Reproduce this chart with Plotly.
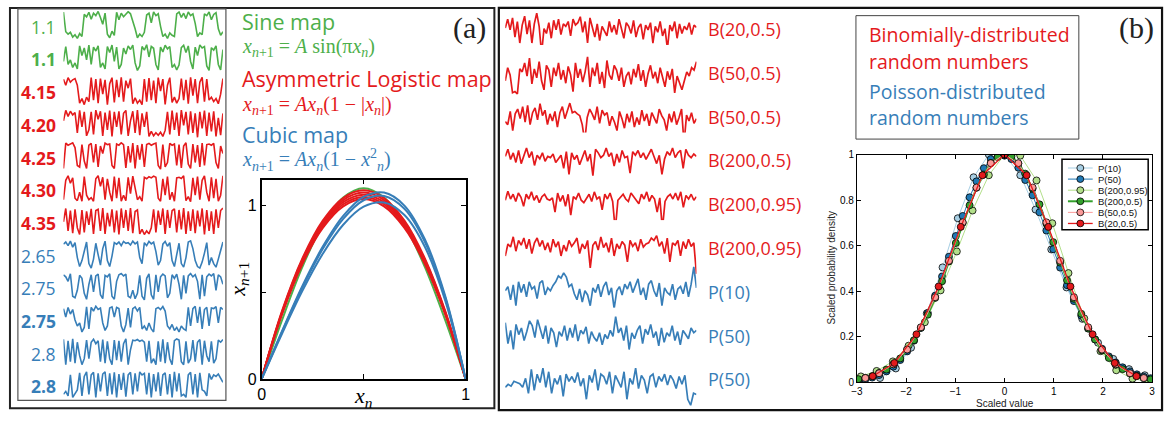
import plotly.graph_objects as go

W, H = 1172, 421
def clamp(v): return min(1.0, max(0.0, v))
def px(x): return clamp(x / W)
def py(y): return clamp(1 - y / H)

GREEN, RED, BLUE = "#4daf4a", "#e41a1c", "#377eb8"
SANS = "Open Sans"
SERIF = "Liberation Serif"

a_labels = ["1.1", "1.1", "4.15", "4.20", "4.25", "4.30", "4.35", "2.65", "2.75", "2.75", "2.8", "2.8"]
a_bold = [False, True, True, True, True, True, True, False, False, True, False, True]

sine_a = [96, 30, 22, 28, 12, 20, 8, 24, 14, 88, 80, 95, 72, 92, 84, 98, 78, 55, 92, 22, 10, 32, 18, 95, 70, 92, 80, 88, 97, 90, 68, 40, 10, 22, 14, 28, 86, 92, 60, 96, 84, 90, 48, 14, 22, 8, 26, 18, 14, 90, 96, 78, 92, 74, 96, 84, 90, 58, 14, 26, 20, 90, 84, 96, 70, 88, 94, 40, 18, 30]
sine_b = [40, 90, 30, 45, 20, 35, 15, 92, 60, 85, 45, 95, 30, 88, 75, 92, 20, 35, 15, 90, 70, 95, 40, 88, 15, 30, 85, 65, 92, 80, 95, 35, 10, 25, 90, 78, 96, 55, 90, 84, 30, 12, 88, 72, 94, 82, 90, 20, 30, 12, 28, 86, 94, 70, 92, 40, 15, 88, 60, 95, 85, 90, 25, 10, 86, 78, 92, 30, 12, 80]
logi_415 = [90, 70, 95, 80, 88, 92, 70, 10, 25, 5, 30, 15, 95, 20, 90, 10, 92, 40, 88, 5, 75, 95, 12, 88, 30, 96, 15, 85, 60, 92, 8, 28, 10, 20, 5, 90, 15, 94, 20, 85, 10, 95, 50, 90, 6, 70, 95, 12, 30, 10, 25, 92, 20, 88, 8, 96, 35, 90, 10, 80, 96, 15, 90, 20, 30, 15, 25, 8, 40, 92]
logi_420 = [60, 95, 75, 92, 80, 88, 20, 95, 40, 90, 10, 30, 90, 15, 96, 65, 92, 10, 88, 30, 94, 8, 90, 40, 92, 15, 85, 95, 10, 60, 92, 20, 96, 12, 85, 40, 90, 8, 25, 10, 20, 12, 22, 8, 28, 90, 15, 94, 30, 88, 10, 96, 45, 90, 15, 92, 20, 85, 5, 90, 35, 94, 10, 88, 25, 92, 8, 70, 12, 85]
logi_425 = [10, 95, 88, 92, 96, 80, 20, 15, 90, 35, 10, 88, 94, 30, 92, 15, 85, 60, 95, 90, 92, 20, 10, 92, 88, 96, 90, 12, 85, 30, 95, 10, 88, 40, 92, 15, 90, 94, 88, 92, 95, 20, 8, 90, 15, 30, 94, 88, 92, 20, 90, 12, 85, 96, 25, 10, 92, 30, 88, 15, 95, 20, 90, 92, 88, 94, 30, 10, 85, 60]
logi_430 = [15, 80, 95, 70, 88, 20, 12, 40, 10, 92, 30, 15, 22, 10, 85, 95, 60, 90, 15, 85, 40, 10, 92, 20, 88, 10, 30, 12, 90, 35, 94, 60, 15, 25, 10, 90, 85, 92, 88, 94, 90, 20, 10, 85, 30, 92, 15, 40, 10, 88, 90, 86, 95, 12, 25, 8, 88, 30, 92, 15, 80, 95, 40, 10, 90, 20, 85, 10, 30, 95]
logi_435 = [50, 95, 20, 88, 12, 92, 30, 8, 90, 15, 85, 40, 94, 10, 88, 92, 20, 96, 10, 80, 35, 92, 15, 88, 8, 95, 30, 90, 20, 96, 12, 85, 90, 10, 25, 8, 20, 10, 30, 92, 15, 88, 40, 95, 10, 90, 30, 88, 94, 15, 90, 25, 96, 10, 85, 20, 92, 12, 88, 35, 95, 8, 90, 20, 85, 10, 92, 30, 88, 96]
cubic_265 = [85, 92, 80, 95, 75, 90, 40, 10, 30, 60, 92, 20, 5, 35, 88, 50, 15, 70, 95, 30, 10, 45, 90, 85, 92, 80, 94, 88, 90, 82, 95, 86, 92, 40, 20, 90, 80, 94, 86, 92, 60, 15, 30, 85, 94, 78, 90, 30, 10, 50, 88, 20, 8, 40, 92, 96, 70, 30, 10, 5, 25, 55, 90, 15, 40, 20, 8, 35, 60, 92]
cubic_275a = [92, 85, 70, 95, 20, 15, 40, 90, 80, 30, 10, 60, 92, 35, 88, 94, 25, 12, 90, 85, 95, 20, 10, 70, 92, 96, 88, 94, 20, 15, 40, 12, 30, 90, 20, 8, 80, 95, 25, 10, 92, 35, 85, 94, 88, 15, 30, 92, 80, 94, 60, 10, 90, 30, 88, 96, 85, 92, 70, 10, 92, 20, 85, 94, 88, 96, 40, 92, 85, 60]
cubic_275b = [88, 60, 92, 70, 85, 50, 30, 40, 10, 25, 94, 20, 92, 80, 96, 85, 90, 40, 15, 30, 90, 94, 60, 92, 88, 30, 10, 35, 90, 25, 88, 94, 80, 92, 20, 30, 15, 40, 20, 10, 88, 92, 85, 95, 80, 30, 20, 35, 15, 25, 10, 30, 20, 15, 92, 30, 88, 96, 40, 94, 20, 85, 92, 30, 90, 88, 95, 40, 92, 85]
cubic_28a = [95, 10, 90, 20, 96, 15, 85, 40, 10, 30, 92, 30, 85, 95, 80, 90, 20, 94, 15, 88, 30, 10, 92, 25, 90, 20, 80, 96, 10, 60, 92, 90, 94, 88, 92, 85, 20, 90, 15, 30, 10, 88, 20, 95, 15, 85, 30, 10, 90, 96, 92, 20, 10, 88, 15, 30, 92, 20, 85, 94, 10, 90, 40, 20, 88, 15, 30, 92, 85, 94]
cubic_28b = [20, 30, 15, 85, 10, 25, 35, 92, 15, 80, 95, 20, 85, 94, 10, 90, 30, 88, 95, 15, 90, 20, 94, 10, 88, 35, 92, 12, 85, 94, 20, 90, 30, 95, 85, 90, 20, 92, 10, 88, 30, 94, 15, 85, 92, 20, 88, 10, 95, 30, 90, 15, 20, 10, 85, 94, 20, 88, 10, 92, 35, 30, 15, 90, 70, 85, 80, 88, 75, 60]

a_series = [sine_a, sine_b, logi_415, logi_420, logi_425, logi_430, logi_435,
            cubic_265, cubic_275a, cubic_275b, cubic_28a, cubic_28b]
a_colors = [GREEN] * 2 + [RED] * 5 + [BLUE] * 5

map_x = [0, 0.1, 0.2, 0.3, 0.4, 0.5, 0.6, 0.7, 0.8, 0.9, 1.0]
map_sine_11 = [0, 0.34, 0.647, 0.89, 1.046, 1.1, 1.046, 0.89, 0.647, 0.34, 0]
map_logi_415 = [0, 0.374, 0.664, 0.872, 0.996, 1.038, 0.996, 0.872, 0.664, 0.374, 0]
map_logi_420 = [0, 0.378, 0.672, 0.882, 1.008, 1.05, 1.008, 0.882, 0.672, 0.378, 0]
map_logi_425 = [0, 0.383, 0.68, 0.893, 1.02, 1.063, 1.02, 0.893, 0.68, 0.383, 0]
map_logi_430 = [0, 0.387, 0.688, 0.903, 1.032, 1.075, 1.032, 0.903, 0.688, 0.387, 0]
map_logi_435 = [0, 0.392, 0.696, 0.914, 1.044, 1.088, 1.044, 0.914, 0.696, 0.392, 0]
map_cubic_265 = [0, 0.262, 0.509, 0.723, 0.89, 0.994, 1.018, 0.946, 0.763, 0.453, 0]
map_cubic_275 = [0, 0.272, 0.528, 0.751, 0.924, 1.031, 1.056, 0.982, 0.792, 0.47, 0]
map_cubic_28 = [0, 0.277, 0.538, 0.764, 0.941, 1.05, 1.075, 1.0, 0.806, 0.479, 0]

b_labels = ["B(20,0.5)", "B(50,0.5)", "B(50,0.5)", "B(200,0.5)", "B(200,0.95)", "B(200,0.95)", "P(10)", "P(50)", "P(50)"]
b_B20 = [55, 70, 52, 72, 40, 66, 30, 60, 75, 45, 68, 30, 62, 80, 58, 12, 54, 46, 64, 38, 68, 52, 70, 44, 62, 58, 66, 42, 70, 60, 64, 74, 48, 66, 30, 72, 56, 40, 62, 34, 58, 50, 42, 66, 48, 60, 44, 70, 52, 38, 64, 58, 46, 68, 40, 56, 62, 36, 60, 52, 64, 30, 58, 48, 66, 42, 54, 20, 60, 50, 66, 38, 62, 46, 58, 52, 64, 44, 60, 56]
b_B50a = [40, 62, 50, 20, 22, 18, 60, 55, 70, 48, 78, 35, 60, 45, 72, 40, 25, 66, 58, 30, 62, 48, 70, 42, 58, 36, 64, 50, 22, 70, 45, 60, 38, 55, 80, 30, 62, 48, 70, 35, 55, 28, 74, 50, 42, 66, 58, 40, 62, 30, 48, 55, 34, 60, 46, 68, 40, 58, 30, 52, 66, 44, 55, 36, 62, 48, 30, 56, 42, 60, 20, 48, 35, 25, 40, 55, 48, 62, 58, 72]
b_B50b = [45, 40, 62, 30, 58, 66, 50, 70, 44, 72, 40, 60, 68, 48, 75, 55, 64, 40, 58, 46, 62, 36, 60, 70, 50, 65, 76, 60, 62, 58, 55, 40, 12, 52, 66, 58, 48, 70, 42, 64, 56, 60, 38, 54, 44, 30, 62, 50, 34, 58, 44, 62, 36, 52, 40, 64, 46, 58, 38, 60, 50, 42, 66, 55, 48, 30, 58, 44, 62, 40, 52, 66, 8, 56, 46, 60, 42, 50]
b_B200 = [60, 72, 55, 66, 50, 70, 48, 62, 74, 58, 68, 45, 62, 56, 66, 52, 60, 58, 64, 50, 56, 62, 40, 68, 30, 66, 55, 62, 46, 58, 70, 52, 64, 28, 72, 66, 58, 62, 74, 60, 66, 44, 64, 50, 70, 58, 60, 32, 68, 62, 70, 58, 66, 55, 64, 72, 60, 48, 62, 30, 56, 68, 62, 74, 58, 66, 70, 40, 72, 62, 58, 64, 60]
b_B95a = [60, 75, 62, 70, 58, 72, 65, 50, 70, 62, 74, 60, 68, 56, 66, 70, 62, 60, 64, 40, 72, 58, 68, 50, 70, 35, 66, 62, 72, 60, 56, 64, 70, 58, 74, 62, 66, 44, 70, 62, 72, 58, 10, 60, 66, 70, 62, 58, 72, 66, 60, 54, 70, 62, 74, 58, 68, 62, 40, 64, 12, 58, 66, 70, 62, 72, 60, 74, 48, 68, 62, 70, 60, 66]
b_B95b = [40, 60, 55, 72, 48, 66, 58, 70, 52, 68, 44, 62, 70, 56, 66, 50, 62, 46, 68, 55, 64, 40, 58, 48, 66, 56, 62, 70, 44, 60, 52, 66, 20, 58, 64, 50, 72, 54, 62, 46, 70, 40, 60, 52, 64, 58, 30, 66, 56, 62, 48, 68, 55, 60, 62, 70, 66, 74, 56, 64, 44, 70, 30, 62, 58, 66, 40, 64, 52, 68, 56, 62, 10]
b_P10 = [55, 62, 40, 65, 30, 70, 52, 66, 45, 70, 58, 62, 42, 68, 72, 48, 60, 55, 64, 70, 80, 76, 85, 78, 62, 66, 50, 40, 58, 36, 55, 48, 30, 60, 52, 66, 45, 62, 70, 48, 60, 25, 55, 62, 48, 66, 58, 70, 52, 64, 75, 48, 60, 40, 66, 72, 55, 45, 68, 30, 60, 52, 48, 66, 40, 58, 62, 50, 70, 45, 66, 95, 60]
b_P50a = [75, 40, 62, 30, 72, 55, 66, 45, 60, 78, 70, 50, 80, 62, 48, 70, 40, 66, 58, 34, 60, 52, 70, 45, 66, 50, 72, 44, 62, 56, 68, 40, 60, 50, 44, 58, 38, 55, 48, 62, 52, 85, 58, 66, 45, 70, 30, 58, 48, 62, 70, 40, 64, 55, 72, 50, 60, 36, 66, 42, 58, 52, 70, 45, 60, 38, 62, 55, 48, 66, 58, 62]
b_P50b = [40, 45, 42, 50, 48, 46, 40, 55, 30, 70, 35, 62, 48, 72, 40, 66, 30, 55, 45, 60, 25, 62, 50, 58, 48, 65, 42, 55, 20, 60, 48, 70, 35, 62, 58, 45, 66, 30, 60, 50, 40, 66, 20, 55, 45, 72, 38, 60, 52, 30, 58, 62, 40, 58, 50, 62, 44, 60, 52, 38, 58, 45, 60, 20, 10, 30, 28]
b_series = [b_B20, b_B50a, b_B50b, b_B200, b_B95a, b_B95b, b_P10, b_P50a, b_P50b]
b_colors = [RED] * 6 + [BLUE] * 3

# ---------------- Panel (b): scaled probability densities
x_p10 = [-2.85, -2.53, -2.21, -1.90, -1.58, -1.26, -0.95, -0.63, -0.32, 0, 0.32, 0.63, 0.95, 1.26, 1.58, 1.90, 2.21, 2.53, 2.85]
y_p10 = [0.004, 0.018, 0.06, 0.151, 0.302, 0.504, 0.72, 0.90, 1.0, 1.0, 0.909, 0.758, 0.583, 0.416, 0.278, 0.173, 0.102, 0.057, 0.030]
x_fine = [-2.97, -2.83, -2.69, -2.55, -2.40, -2.26, -2.12, -1.98, -1.84, -1.70, -1.56, -1.41, -1.27, -1.13, -0.99, -0.85, -0.71, -0.57, -0.42, -0.28, -0.14, 0,
          0.14, 0.28, 0.42, 0.57, 0.71, 0.85, 0.99, 1.13, 1.27, 1.41, 1.56, 1.70, 1.84, 1.98, 2.12, 2.26, 2.40, 2.55, 2.69, 2.83, 2.97]
y_p50 = [0.007, 0.012, 0.020, 0.031, 0.047, 0.068, 0.097, 0.135, 0.182, 0.238, 0.304, 0.380, 0.464, 0.551, 0.642, 0.730, 0.812, 0.882, 0.940, 0.980, 1.0, 0.995,
         0.980, 0.942, 0.888, 0.821, 0.746, 0.666, 0.584, 0.503, 0.426, 0.356, 0.292, 0.236, 0.188, 0.147, 0.113, 0.086, 0.065, 0.047, 0.034, 0.024, 0.017]
x_b95 = [-2.92, -2.60, -2.27, -1.95, -1.62, -1.30, -0.97, -0.65, -0.32, 0, 0.32, 0.65, 0.97, 1.30, 1.62, 1.95, 2.27, 2.60, 2.92]
y_b95 = [0.025, 0.049, 0.091, 0.160, 0.263, 0.403, 0.574, 0.754, 0.909, 1.0, 0.995, 0.886, 0.698, 0.479, 0.280, 0.136, 0.052, 0.015, 0.003]
y_b200 = [0.013, 0.019, 0.026, 0.040, 0.055, 0.078, 0.104, 0.143, 0.184, 0.239, 0.296, 0.370, 0.443, 0.530, 0.611, 0.700, 0.777, 0.854, 0.912, 0.963, 0.989, 1.0,
          0.991, 0.960, 0.916, 0.850, 0.781, 0.696, 0.615, 0.525, 0.447, 0.366, 0.300, 0.235, 0.187, 0.139, 0.106, 0.076, 0.057, 0.038, 0.028, 0.017, 0.012]
x_b50 = [-2.83, -2.55, -2.26, -1.98, -1.70, -1.41, -1.13, -0.85, -0.57, -0.28, 0, 0.28, 0.57, 0.85, 1.13, 1.41, 1.70, 1.98, 2.26, 2.55, 2.83]
y_b50 = [0.018, 0.039, 0.078, 0.143, 0.241, 0.373, 0.533, 0.702, 0.855, 0.962, 1.0, 0.962, 0.855, 0.702, 0.533, 0.373, 0.241, 0.143, 0.078, 0.039, 0.018]
x_b20 = [-2.68, -2.24, -1.79, -1.34, -0.89, -0.45, 0, 0.45, 0.89, 1.34, 1.79, 2.24, 2.68]
y_b20 = [0.026, 0.084, 0.21, 0.42, 0.682, 0.909, 1.0, 0.909, 0.682, 0.42, 0.21, 0.084, 0.026]

dens_names = ["P(10)", "P(50)", "B(200,0.95)", "B(200,0.5)", "B(50,0.5)", "B(20,0.5)"]
dens_x = [x_p10, x_fine, x_b95, x_fine, x_b50, x_b20]
dens_y = [y_p10, y_p50, y_b95, y_b200, y_b50, y_b20]
dens_colors = ["#a6cee3", "#1f78b4", "#b2df8a", "#33a02c", "#fb9a99", "#e31a1c"]
dens_widths = [1, 1, 1, 2, 1, 1.3]

# ---------------- figure building
fig = go.Figure()
layout = {}
counter = [0]

def add_axes(xdom, ydom, xkw, ykw):
    counter[0] += 1
    k = counter[0]
    sfx = "" if k == 1 else str(k)
    layout["xaxis" + sfx] = dict(domain=xdom, anchor="y" + sfx, **xkw)
    layout["yaxis" + sfx] = dict(domain=ydom, anchor="x" + sfx, **ykw)
    return "x" + sfx, "y" + sfx

def strip_span(top, bottom):
    """Domain and value range so that 0..100 spans [bottom, top] pixels (clamped to the figure)."""
    t, b = max(top, 0.0), min(bottom, float(H))
    h = bottom - top
    return [py(b), py(t)], [100 * (bottom - b) / h, 100 * (bottom - t) / h]

hidden = dict(visible=False, showgrid=False, zeroline=False, fixedrange=True)
annotations = []
shapes = []

def note(x, y, text, size, color, family=SANS, xanchor="center", yanchor="middle", angle=0):
    annotations.append(dict(x=px(x), y=py(y), xref="paper", yref="paper", text=text,
                            xanchor=xanchor, yanchor=yanchor, showarrow=False, textangle=angle,
                            font=dict(family=family, size=size, color=color)))

# (a) strips
for i, (vals, col) in enumerate(zip(a_series, a_colors)):
    c = 20.5 + 33.9 * i
    dom, rng = strip_span(c - 15.5, c + 15.5)
    xr, yr = add_axes([px(58), px(219)], dom,
                      dict(hidden, range=[0, len(vals) - 1]),
                      dict(hidden, range=rng))
    fig.add_trace(go.Scatter(x=list(range(len(vals))), y=vals, mode="lines",
                             line=dict(color=col, width=1.6), xaxis=xr, yaxis=yr,
                             showlegend=False, hoverinfo="skip"))
    lab = a_labels[i]
    note(52, c + 1, ("<b>%s</b>" % lab) if a_bold[i] else lab, 17.5, col, xanchor="right")

# (a) map plot
frame_axis = dict(showline=True, linecolor="black", linewidth=1.5, mirror="ticks",
                  ticks="inside", ticklen=5, tickcolor="black", showgrid=False,
                  zeroline=False, fixedrange=True,
                  tickfont=dict(family="Liberation Sans", size=16, color="black"))
xr, yr = add_axes([px(258), px(464)], [py(387), py(180)],
                  dict(frame_axis, range=[0, 1], tickvals=[0, 0.5, 1], ticktext=["0", "", "1"]),
                  dict(frame_axis, range=[0, 1.15], tickvals=[0, 0.5, 1], ticktext=["0", "", "1"]))
map_curves = [(map_sine_11, GREEN), (map_logi_415, RED), (map_logi_420, RED), (map_logi_425, RED),
              (map_logi_430, RED), (map_logi_435, RED), (map_cubic_265, BLUE), (map_cubic_275, BLUE),
              (map_cubic_28, BLUE)]
for ys, col in map_curves:
    fig.add_trace(go.Scatter(x=map_x, y=ys, mode="lines", line=dict(color=col, width=2, shape="spline"),
                             xaxis=xr, yaxis=yr, showlegend=False, hoverinfo="skip"))
note(361, 405, "<i>x<sub>n</sub></i>", 22, "black", family=SERIF)
note(235, 283, "<i>x<sub>n</sub></i><sub>+1</sub>", 22, "black", family=SERIF, angle=-90)

# (a) texts
texts_a = [
    ("Sine map", GREEN, SANS, 21.5, 16),
    ("<i>x</i><sub><i>n</i>+1</sub> = <i>A</i> sin(π<i>x<sub>n</sub></i>)", GREEN, SERIF, 20, 43),
    ("Asymmetric Logistic map", RED, SANS, 21.5, 75),
    ("<i>x</i><sub><i>n</i>+1</sub> = <i>Ax<sub>n</sub></i>(1 − |<i>x<sub>n</sub></i>|)", RED, SERIF, 20, 103),
    ("Cubic map", BLUE, SANS, 21.5, 133),
    ("<i>x</i><sub><i>n</i>+1</sub> = <i>Ax<sub>n</sub></i>(1 − <i>x</i><sup>2</sup><sub><i>n</i></sub>)", BLUE, SERIF, 20, 160),
]
for t, col, fam, sz, yc in texts_a:
    note(236, yc, t, sz, col, family=fam, xanchor="left")
note(487, 23, "(a)", 30, "#222", family=SERIF, xanchor="right")

# (b) strips
for i, (vals, col) in enumerate(zip(b_series, b_colors)):
    c = 26 + 45.4 * i
    dom, rng = strip_span(c - 31, c + 31)
    xr, yr = add_axes([px(504), px(697)], dom,
                      dict(hidden, range=[0, len(vals) - 1]),
                      dict(hidden, range=rng))
    fig.add_trace(go.Scatter(x=list(range(len(vals))), y=vals, mode="lines",
                             line=dict(color=col, width=1.7), xaxis=xr, yaxis=yr,
                             showlegend=False, hoverinfo="skip"))
    note(707, c - 2, b_labels[i], 18, col, xanchor="left")

# (b) text box
texts_b = [("Binomially-distributed", RED, 30), ("random numbers", RED, 58),
           ("Poisson-distributed", BLUE, 89), ("random numbers", BLUE, 116)]
for t, col, yc in texts_b:
    note(869, yc, t, 19.5, col, xanchor="left")
note(1161, 23, "(b)", 30, "#222", family=SERIF, xanchor="right")

# (b) density plot
dens_axis = dict(showline=True, linecolor="black", linewidth=1, mirror="ticks",
                 ticks="inside", ticklen=4, tickcolor="black", showgrid=False,
                 zeroline=False, fixedrange=True,
                 tickfont=dict(family="Liberation Sans", size=10, color="black"))
xr, yr = add_axes([px(859), px(1157)], [py(390), py(154)],
                  dict(dens_axis, range=[-3, 3], tickvals=[-3, -2, -1, 0, 1, 2, 3]),
                  dict(dens_axis, range=[0, 1], tickvals=[0, 0.2, 0.4, 0.6, 0.8, 1]))
for xs, ys, col, w in zip(dens_x, dens_y, dens_colors, dens_widths):
    fig.add_trace(go.Scatter(x=xs, y=ys, mode="lines+markers",
                             line=dict(color=col, width=w),
                             marker=dict(color=col, size=7, line=dict(color="black", width=0.8)),
                             xaxis=xr, yaxis=yr, showlegend=False, hoverinfo="skip"))
note(1008, 412, "Scaled value", 10, "#222", family="Liberation Sans")
note(833, 272, "Scaled probability density", 10, "#222", family="Liberation Sans", angle=-90)

# manual legend for density plot
shapes.append(dict(type="rect", xref="paper", yref="paper", x0=px(1066), x1=px(1153),
                   y0=py(232), y1=py(159), line=dict(color="black", width=1.5), fillcolor="white", layer="above"))
for i, (nm, col, w) in enumerate(zip(dens_names, dens_colors, dens_widths)):
    ly = 168 + 11.5 * i
    shapes.append(dict(type="line", xref="paper", yref="paper", x0=px(1072), x1=px(1097),
                       y0=py(ly), y1=py(ly), line=dict(color=col, width=w), layer="above"))
    shapes.append(dict(type="circle", xref="paper", yref="paper", x0=px(1081), x1=px(1088),
                       y0=py(ly + 3.5), y1=py(ly - 3.5), fillcolor=col,
                       line=dict(color="black", width=0.8), layer="above"))
    note(1100, ly, nm, 9.5, "#111", family="Liberation Sans", xanchor="left")

# frames
shapes += [
    dict(type="rect", xref="paper", yref="paper", x0=px(4), x1=px(493), y0=py(417), y1=py(2),
         line=dict(color="#222", width=2)),
    dict(type="rect", xref="paper", yref="paper", x0=px(12), x1=px(222), y0=py(409), y1=py(3),
         line=dict(color="#555", width=1.2)),
    dict(type="rect", xref="paper", yref="paper", x0=px(497.5), x1=px(1167), y0=py(419), y1=py(2),
         line=dict(color="#111", width=2.2)),
    dict(type="rect", xref="paper", yref="paper", x0=px(858), x1=px(1083), y0=py(138), y1=py(10),
         line=dict(color="#444", width=1)),
]

fig.update_layout(width=W, height=H, autosize=False, margin=dict(l=0, r=0, t=0, b=0),
                  paper_bgcolor="white", plot_bgcolor="white", showlegend=False,
                  annotations=annotations, shapes=shapes, **layout)
fig.write_html("out.html")
